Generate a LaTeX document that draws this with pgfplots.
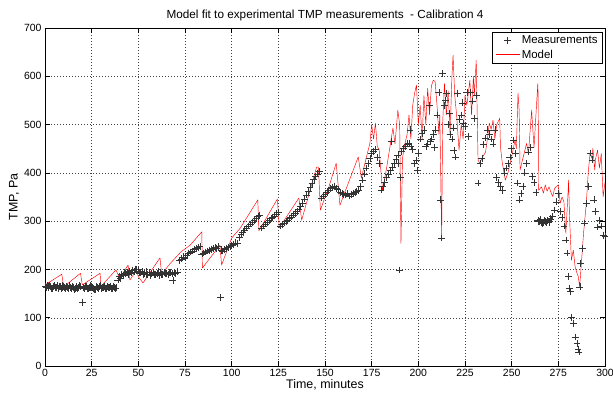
\documentclass[border=0pt]{standalone}
\usepackage{pgfplots}
\pgfplotsset{compat=1.18}
\usepackage{fontspec}
\setmainfont{Liberation Sans}
\pgfplotsset{
  measleg/.style={legend image code/.code={%
    \path[draw=none] (0bp,0bp) -- (24bp,0bp);
    \draw[##1] plot coordinates {(12bp,0bp)};}},
  lineleg/.style={legend image code/.code={%
    \draw[##1] (0bp,0bp) -- (24bp,0bp);}},
}
\begin{document}
\begin{tikzpicture}
\useasboundingbox (-45bp,-30bp) rectangle (568bp,366bp);
\begin{axis}[
  scale only axis, width=560bp, height=338bp,
  xmin=0, xmax=300, ymin=0, ymax=700,
  xtick={0,25,...,300}, ytick={0,100,...,700},
  /pgf/number format/assume math mode=true,
  tick label style={font=\fontsize{10.5}{12}\selectfont},
  label style={font=\fontsize{12.5}{14}\selectfont},
  title style={font=\fontsize{11.8}{13}\selectfont, yshift=-2bp},
  title={Model fit to experimental TMP measurements\ \ - Calibration 4},
  xlabel={Time, minutes}, ylabel={TMP, Pa},
  xlabel style={yshift=4bp}, ylabel style={yshift=-2bp},
  grid=major,
  major grid style={black!75, line width=0.4pt, dash pattern=on 1bp off 2bp},
  tick align=inside, major tick length=5bp,
  axis line style={black, line width=0.7pt},
  tick style={black, line width=0.6pt},
  legend style={at={(rel axis cs:0.996,0.988)}, anchor=north east,
    font=\fontsize{11.5}{13}\selectfont,
    inner xsep=3bp, inner ysep=1.5bp, row sep=0bp,
    nodes={inner ysep=2.2bp}},
  legend cell align=left,
]
\addplot[only marks, mark=+, mark size=3.4bp, black!80, mark options={line width=0.5pt}, measleg] table {
x y
0 165
0.5 163
1 166
1.5 164
2 162
2.5 167
3 164
3.5 161
4 160
4.5 165
5 166
5.5 162
6 163
6.5 166
7 161
7.5 164
8 165
8.5 160
9 162
9.5 166
10 164
10.5 162
11 160
11.5 165
12 163
12.5 161
13 166
13.5 163
14 161
14.5 164
15 163
15.5 159
16 160
16.5 163
17 164
17.5 161
18 162
18.5 166
19 165
20 132
20.5 163
21 161
21.5 165
22 164
22.5 160
23 160
23.5 163
24 163
24.5 166
25 165
25.5 162
26 161
26.5 158
27 158
27.5 164
28 162
28.5 160
29 164
29.5 166
30 160
30.5 162
31 163
31.5 165
32 165
32.5 160
33 161
33.5 164
34 162
34.5 163
35 164
35.5 160
36 161
36.5 165
37 163
37.5 161
38 162
39 178
40 186
40.5 182
41 190
42 188
42.5 193
43 192
44 194
44.5 190
45 196
46 193
46.5 199
47 198
48 195
48.5 201
49 200
50 197
50.5 193
51 194
52 196
52.5 190
53 192
54 195
54.5 189
55 190
56 194
56.5 188
57 191
58 193
58.5 190
59 190
60 192
60.5 195
61 188
62 193
62.5 189
63 190
64 194
64.5 191
65 192
66 189
66.5 193
67 193
68 191
68.5 177
69 194
70 192
71 195
72 218
73 222
74 226
75 224
76 230
77 234
78 236
79 238
80 241
81 243
82 246
83 248
84 232
85 234
86 236
87 238
88 240
89 242
90 243
91 245
92 244
93 247
94 142
94.5 240
95 238
96 241
97 244
98 246
99 248
100 250
101 252
102 255
103 254
104 266
105 272
106 276
107 282
108 286
109 290
110 294
111 298
112 302
113 306
114 310
115 312
116 286
117 290
118 294
119 298
120 301
121 305
122 308
123 311
124 315
125 318
126 290
127 293
128 296
129 299
130 302
131 305
132 309
133 313
134 316
135 320
136 325
137 330
138 338
139 346
140 354
141 362
142 370
143 378
144 386
145 393
146 398
147 403
148 348
149 352
150 356
151 360
152 364
153 368
154 370
155 372
156 368
157 366
158 360
159 358
160 356
161 354
162 357
163 352
164 355
165 358
166 360
167 362
168 364
169 372
170 385
171 398
172 410
173 420
174 430
175 440
176 445
177 448
178 432
179 420
180 365
181 372
182 380
183 390
184 398
185 405
185.7 465
186 412
187 420
188 428
189 437
189.5 420
190 199
190.5 390
191 445
192 450
193 455
194 460
195 462
195.5 489
196 455
197 448
198 420
199 426
199.5 405
200 440
201 470
202 482
203 489
204 455
205 460
206 540
206.5 465
207 470
208 480
208.5 453
209 489
210 520
211 567
212 344
212.5 265
213 606
214 540
214.6 551
215 565
216 500
216.5 523
217 480
218 470
218.8 493
219 447
220 433
221 565
222 510
223 520
223.5 545
224 503
225 496
226 566
227 475
228 566
229 549
230 513
231 560
232 379
233 420
234 430
235 459
236 472
237 489
238 480
239 470
240 460
241 489
242 391
243 380
244 372
245 364
246 400
247 410
248 420
249 433
250 450
251 468
252 440
253 379
254 344
255 358
256 372
257 400
258 420
259 443
260 453
261 393
262 380
263 360
264 302
264.5 299
265 300
265.5 303
266 298
266.5 295
267 296
267.5 301
268 300
268.5 297
269 302
270 298
270.5 305
271 304
272 310
273 323
274 340
275 358
276 320
277 308
278 290
279 261
279.6 234
280.5 185
281 161
281.5 154
282 101
283 88
284 60
285 47
285.5 35
286 29
286.5 164
287 212
288 244
289 296
290 337
291 372
292 441
293 427
294 344
295 320
296 288
297 302
298 290
299 271
300 268
};
\addlegendentry{Measurements}
\addplot[red, line width=0.45pt, line join=round, lineleg] table {
x y
0 168
9 190
10 164
19 192
20 168
29.5 192
30 165
38 199
40 182
44.5 209
45.5 178
49 199
50 185
52.5 172
61.6 224
62.5 190
67 212
73 237
77.7 250
84 278
84.3 203
93.7 250
94.6 209
100 265
104.5 285
114 344
114.6 280
124.5 346
125.5 286
136 348
137.5 302
145.5 412
146.5 412
147.5 323
152 370
156 420
158 333
167.8 433
169.5 389
172 430
174 460
175 500
176 470
177 503
178 455
179 448
180.8 364
183 410
186.4 493
187.5 460
189 530
190 500
190.7 254
191.5 430
192.5 455
194 480
195 520
196 470
197 540
198 565
199 582
200 500
201 540
202 470
203 560
204 500
205 575
206 520
207 580
208 592
209 589
210 540
211 480
211.5 520
212.5 265
213 500
214 585
215 520
216 570
217 480
218 600
218.6 644
219.5 560
220.5 520
221.8 447
223 500
224 470
225 560
226 540
227.6 592
228.5 520
229.5 600
230 560
231 633
232 426
233 420
234 430
236 443
237 470
238 503
239 490
240 509
241 470
242 500
243.6 513
244 453
245 420
246.6 385
248 400
250 433
251.8 468
252.5 450
253.4 565
254 530
254.5 406
256 430
258 461
259 440
260.7 530
261.5 480
262 453
263 520
264 585
264.2 560
264.4 364
266 371
267 358
268 375
269 362
270 371
271 360
272 351
273 368
275 375
276 337
277 350
278 340
279 275
280 344
280.5 385
281 308
282 219
283 240
284 205
285 192
285.7 185
286.4 164
287.6 226
288.5 275
290 337
291 400
292 441
293 430
293.5 451
294.5 406
295 430
296 447
297 410
298 440
299 350
300 380
};
\addlegendentry{Model}
\end{axis}
\end{tikzpicture}
\end{document}
